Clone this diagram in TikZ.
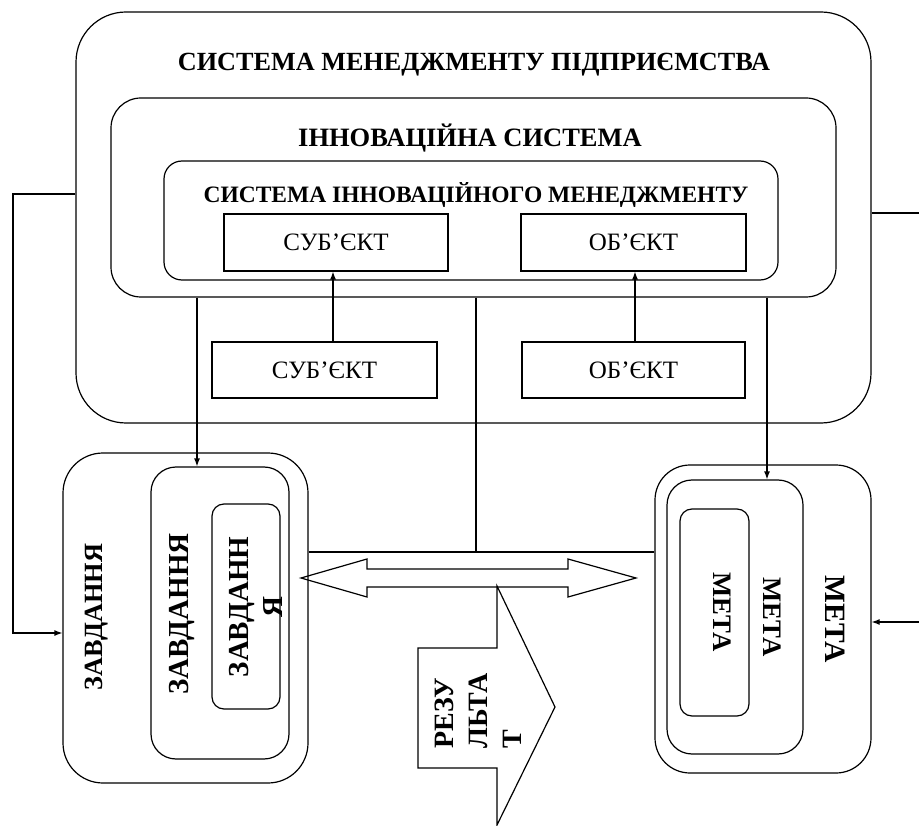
\documentclass[tikz,border=0pt]{standalone}
\usepackage{fontspec}
\setmainfont{Liberation Serif}
\usetikzlibrary{arrows.meta}

\tikzset{
  frame/.style={draw, line width=1.2pt, rounded corners=#1, inner sep=0pt},
  plainbox/.style={draw, line width=1.2pt, inner sep=0pt, font=\fontsize{25}{30}\selectfont},
  head/.style={font=\bfseries\fontsize{#1}{30}\selectfont, inner sep=0pt},
  vlabel/.style={font=\bfseries\fontsize{#1}{34}\selectfont, align=center, inner sep=0pt},
  link/.style={line width=1.2pt},
  arr/.style={line width=1.2pt, -{Latex[length=8pt,width=6pt]}},
  bigarrow/.style={draw, line width=1.2pt, line join=miter},
}

\begin{document}
\begin{tikzpicture}[x=1pt,y=-1pt]
\useasboundingbox (0,0) rectangle (919,826);

% nested systems
\node[frame=50pt, minimum width=795pt, minimum height=411pt] (O) at (473.5,217.5) {};
\node[frame=30pt, minimum width=725pt, minimum height=199pt] (I) at (473.5,197.5) {};
\node[frame=18pt, minimum width=614pt, minimum height=119pt] (S) at (471,220.5) {};

\node[head=26.2] (t1) at (474,65) {СИСТЕМА МЕНЕДЖМЕНТУ ПІДПРИЄМСТВА};
\node[head=26.5] (t2) at (470,138) {ІННОВАЦІЙНА СИСТЕМА};
\node[head=23.5] (t3) at (476,195) {СИСТЕМА ІННОВАЦІЙНОГО МЕНЕДЖМЕНТУ};

% subject and object boxes
\node[plainbox, minimum width=224pt, minimum height=57pt] (S1) at (336,242.5) {СУБ’ЄКТ};
\node[plainbox, minimum width=225pt, minimum height=57pt] (O1) at (633.5,242.5) {ОБ’ЄКТ};
\node[plainbox, minimum width=225pt, minimum height=56pt] (S2) at (324.5,370) {СУБ’ЄКТ};
\node[plainbox, minimum width=223pt, minimum height=56pt] (O2) at (633.5,370) {ОБ’ЄКТ};

% task group
\node[frame=40pt, minimum width=245pt, minimum height=330pt] (Lout) at (185.5,618) {};
\node[frame=25pt, minimum width=138pt, minimum height=292pt] (Lmid) at (220,613) {};
\node[frame=12pt, minimum width=68pt, minimum height=205pt] (Lin) at (246,606.5) {};
\node[vlabel=26.3, rotate=90] (lt1) at (97,617) {ЗАВДАННЯ};
\node[vlabel=29, rotate=90] (lt2) at (182,614) {ЗАВДАННЯ};
\node[vlabel=29, rotate=90] (lt3) at (256,607) {ЗАВДАНН\\Я};

% goal group
\node[frame=35pt, minimum width=216pt, minimum height=308pt] (Rout) at (763,619) {};
\node[frame=25pt, minimum width=136pt, minimum height=274pt] (Rmid) at (735,617) {};
\node[frame=12pt, minimum width=69pt, minimum height=207pt] (Rin) at (714.5,612.5) {};
\node[vlabel=29.5, rotate=-90] (rt1) at (835,619) {МЕТА};
\node[vlabel=26.7, rotate=-90] (rt2) at (772,617) {МЕТА};
\node[vlabel=26.7, rotate=-90] (rt3) at (722,612) {МЕТА};

% helper coordinates for the connector routes
\coordinate (xa) at (197,0);
\coordinate (xs) at (333,0);
\coordinate (xo) at (635,0);
\coordinate (xc) at (476,0);
\coordinate (xm) at (767,0);
\coordinate (hl) at (0,552);
\coordinate (ltop) at (13,194);
\coordinate (lbot) at (13,633);
\coordinate (rtop) at (919,213);
\coordinate (rbot) at (919,622);

% connectors
\draw[arr] (xs |- S2.north) -- (xs |- S1.south);
\draw[arr] (xo |- O2.north) -- (xo |- O1.south);
\draw[arr] (xa |- I.south) -- (xa |- Lmid.north);
\draw[arr] (xm |- I.south) -- (xm |- Rmid.north);
\draw[link] (xc |- I.south) -- (xc |- hl);
\draw[link] (Lout.east |- hl) -- (Rout.west |- hl);
\draw[arr] (O.west |- ltop) -- (ltop) -- (lbot) -- (Lout.west |- lbot);
\draw[link] (O.east |- rtop) -- (rtop);
\draw[arr] (rbot) -- (Rout.east |- rbot);

% two-way exchange arrow
\draw[bigarrow] (301,578) -- (367,559) -- (367,569) -- (568,569) -- (568,559)
  -- (636,578) -- (568,597) -- (568,587) -- (367,587) -- (367,597) -- cycle;

% result arrow
\draw[bigarrow] (497,586) -- (555,707) -- (497,825) -- (497,768) -- (418,768)
  -- (418,648) -- (497,648) -- cycle;
\node[vlabel=28, rotate=90, align=left] (res) at (478,711) {РЕЗУ\\ЛЬТА\\Т};
\end{tikzpicture}
\end{document}
